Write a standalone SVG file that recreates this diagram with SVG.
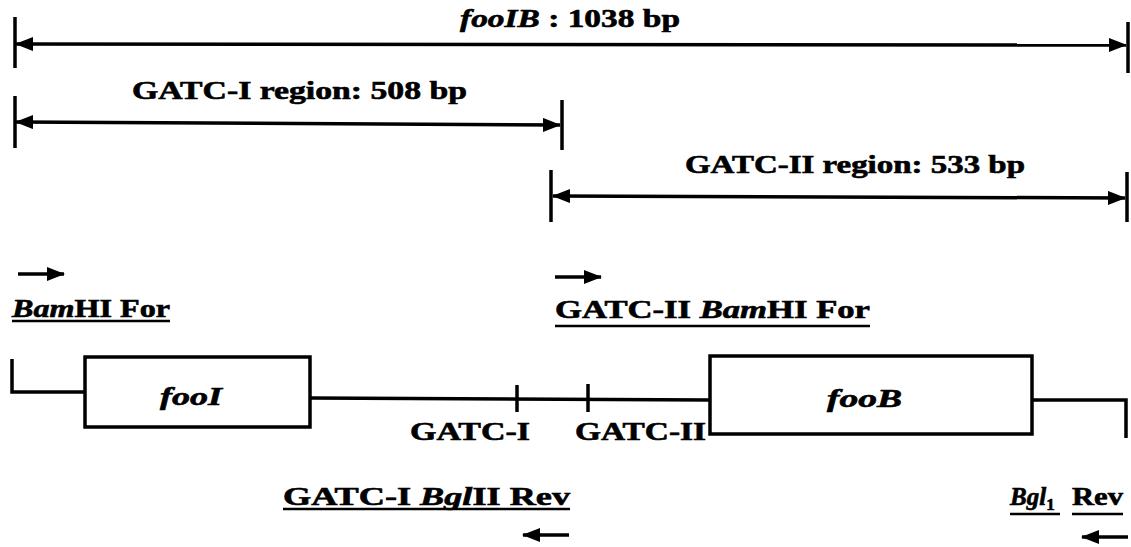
<svg xmlns="http://www.w3.org/2000/svg" width="1131" height="547" viewBox="0 0 1131 547">
<defs>
<marker id="ah" viewBox="0 0 18 14" refX="17" refY="7" markerWidth="18" markerHeight="14" markerUnits="userSpaceOnUse" orient="auto-start-reverse">
<path d="M0,0 L18,7 L0,14 Z" fill="#000"/>
</marker>
</defs>
<style>
text{font-family:"Liberation Serif","Times New Roman",serif;font-weight:bold;font-size:25px;fill:#000;stroke:#000;stroke-width:0.6}
.i{font-style:italic}
.ln{stroke:#000;stroke-width:3.5;fill:none}
.tk{stroke:#000;stroke-width:3.5}
.box{fill:#fff;stroke:#000;stroke-width:3.5}
.ul{stroke:#000;stroke-width:2.5}
</style>
<rect width="1131" height="547" fill="#fff"/>
<g id="connectors">
<line class="ln" x1="16" y1="44" x2="1126" y2="45" marker-start="url(#ah)" marker-end="url(#ah)"/>
<line class="tk" x1="15" y1="17" x2="15" y2="68"/>
<line class="tk" x1="1128" y1="22" x2="1128" y2="73"/>
<line class="ln" x1="16" y1="122" x2="560" y2="125" marker-start="url(#ah)" marker-end="url(#ah)"/>
<line class="tk" x1="15" y1="96" x2="15" y2="148"/>
<line class="tk" x1="562" y1="100" x2="562" y2="150"/>
<line class="ln" x1="553" y1="196" x2="1125" y2="198" marker-start="url(#ah)" marker-end="url(#ah)"/>
<line class="tk" x1="551" y1="170" x2="551" y2="222"/>
<line class="tk" x1="1127" y1="172" x2="1127" y2="222"/>
<path class="ln" d="M12,359 V392 H85"/>
<line class="ln" x1="310" y1="398" x2="710" y2="400"/>
<path class="ln" d="M1032,400 H1126 V438"/>
<line class="ln" x1="18" y1="274" x2="64" y2="274" marker-end="url(#ah)"/>
<line class="ln" x1="555" y1="277" x2="601" y2="277" marker-end="url(#ah)"/>
<line class="ln" x1="523" y1="535" x2="569" y2="535" marker-start="url(#ah)"/>
<line class="ln" x1="1082" y1="537" x2="1128" y2="537" marker-start="url(#ah)"/>
</g>
<g id="dim-fooIB">
<text x="460" y="27" textLength="220" lengthAdjust="spacingAndGlyphs"><tspan class="i">fooIB</tspan> : 1038 bp</text>
</g>
<g id="dim-gatc1">
<text x="132" y="99" textLength="335" lengthAdjust="spacingAndGlyphs">GATC-I region: 508 bp</text>
</g>
<g id="dim-gatc2">
<text x="685" y="173" textLength="340" lengthAdjust="spacingAndGlyphs">GATC-II region: 533 bp</text>
</g>
<g id="fooI">
<rect class="box" x="85" y="357" width="225" height="70"/>
<text class="i" x="160" y="405" textLength="62" lengthAdjust="spacingAndGlyphs">fooI</text>
</g>
<g id="fooB">
<rect class="box" x="710" y="356" width="322" height="78"/>
<text class="i" x="827" y="407" textLength="75" lengthAdjust="spacingAndGlyphs">fooB</text>
</g>
<g id="site-gatc1">
<line class="tk" x1="517" y1="385" x2="517" y2="412" stroke-width="5"/>
<text x="410" y="440" textLength="120" lengthAdjust="spacingAndGlyphs">GATC-I</text>
</g>
<g id="site-gatc2">
<line class="tk" x1="588" y1="384" x2="588" y2="412" stroke-width="5"/>
<text x="575" y="440" textLength="131" lengthAdjust="spacingAndGlyphs">GATC-II</text>
</g>
<g id="primer-bamhi-for">
<text x="12" y="317" textLength="158" lengthAdjust="spacingAndGlyphs"><tspan class="i">Bam</tspan>HI For</text>
<line class="ul" x1="12" y1="321" x2="170" y2="321"/>
</g>
<g id="primer-gatc2-for">
<text x="555" y="318" textLength="315" lengthAdjust="spacingAndGlyphs">GATC-II <tspan class="i">Bam</tspan>HI For</text>
<line class="ul" x1="555" y1="326" x2="870" y2="326"/>
</g>
<g id="primer-gatc1-rev">
<text x="283" y="505" textLength="287" lengthAdjust="spacingAndGlyphs">GATC-I <tspan class="i">Bgl</tspan>II Rev</text>
<line class="ul" x1="283" y1="509" x2="570" y2="509"/>
</g>
<g id="primer-bgl-rev">
<text x="1010" y="505"><tspan class="i">Bgl</tspan><tspan font-size="17" dy="5">1</tspan></text>
<text x="1072" y="505" textLength="51" lengthAdjust="spacingAndGlyphs">Rev</text>
<line class="ul" x1="1010" y1="514" x2="1060" y2="514"/>
<line class="ul" x1="1072" y1="514" x2="1123" y2="514"/>
</g>
</svg>
